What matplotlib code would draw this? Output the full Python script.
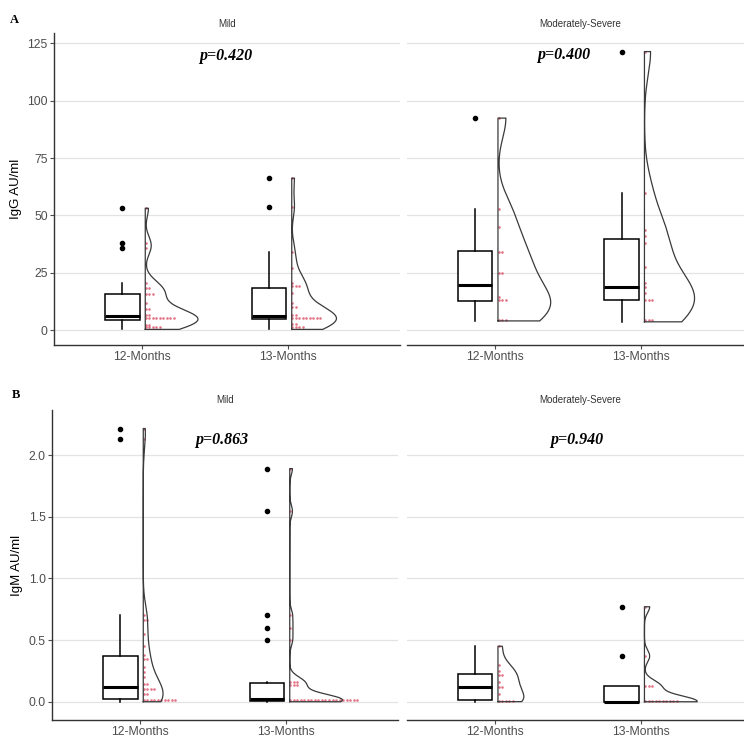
import numpy as np
import matplotlib.pyplot as plt

months = ['12-Months', '13-Months']
severity = ['Mild', 'Moderately-Severe']

# IgG AU/ml, estimated individual values
igg_mild_12 = [0.3, 1.2, 1.5, 1.8, 2.0, 2.2, 2.5, 4.5, 4.7, 5.0, 5.3, 5.5, 5.7, 5.8, 6.0,
               6.2, 6.5, 7.0, 8.5, 10.0, 12.0, 15.0, 16.0, 16.5, 17.5, 18.9, 20.4, 35.6, 38.1, 53.1]
igg_mild_13 = [0.3, 1.2, 1.6, 2.0, 2.3, 2.6, 4.5, 4.7, 5.0, 5.3, 5.5, 5.8, 6.0, 6.0, 6.2,
               6.4, 6.8, 9.5, 10.5, 12.0, 16.0, 18.5, 19.5, 20.0, 20.5, 27.0, 34.2, 53.8, 66.2]
igg_sev_12 = [4.0, 4.4, 4.8, 12.5, 13.2, 13.8, 14.5, 24.5, 25.5, 33.8, 34.6, 44.8, 52.7, 92.4]
igg_sev_13 = [3.6, 4.5, 5.0, 12.4, 13.5, 14.0, 16.0, 18.6, 20.6, 27.6, 38.0, 41.0, 43.6, 59.6, 121.4]

# IgM AU/ml, estimated individual values
igm_mild_12 = [0.0, 0.0, 0.01, 0.01, 0.01, 0.02, 0.02, 0.02, 0.03, 0.03, 0.05, 0.07, 0.09, 0.10,
               0.11, 0.12, 0.13, 0.15, 0.20, 0.24, 0.28, 0.34, 0.36, 0.38, 0.45, 0.55, 0.65, 0.68,
               0.70, 2.13, 2.215]
igm_mild_13 = [0.0, 0.0, 0.0, 0.0, 0.0, 0.005, 0.005, 0.01, 0.01, 0.01, 0.01, 0.015, 0.015, 0.02,
               0.02, 0.02, 0.025, 0.03, 0.03, 0.03, 0.12, 0.14, 0.15, 0.16, 0.16, 0.16,
               0.50, 0.60, 0.70, 1.545, 1.89]
igm_sev_12 = [0.0, 0.0, 0.0, 0.01, 0.02, 0.06, 0.11, 0.13, 0.16, 0.21, 0.23, 0.25, 0.30, 0.45]
igm_sev_13 = [0.0, 0.0, 0.0, 0.0, 0.0, 0.0, 0.0, 0.0, 0.005, 0.01, 0.12, 0.13, 0.13, 0.37, 0.77]

p_igg = ['p=0.420', 'p=0.400']
p_igm = ['p=0.863', 'p=0.940']
igg_ticks = [0, 25, 50, 75, 100, 125]
igm_ticks = [0.0, 0.5, 1.0, 1.5, 2.0]

plt.rcParams['font.family'] = ['Liberation Sans', 'DejaVu Sans']


def bw_nrd0(v):
    v = np.asarray(v, float)
    sd = v.std(ddof=1)
    iqr = np.subtract(*np.percentile(v, [75, 25]))
    lo = min(sd, iqr / 1.34) if iqr > 0 else sd
    return 0.9 * lo * len(v) ** -0.2


def density(v, grid):
    v = np.asarray(v, float)
    bw = bw_nrd0(v)
    z = (grid[:, None] - v[None, :]) / bw
    return np.exp(-0.5 * z ** 2).sum(axis=1) / (len(v) * bw * np.sqrt(2 * np.pi))


def dot_bins(v, binwidth):
    v = np.sort(np.asarray(v, float))
    out = []
    i = 0
    while i < len(v):
        j = i
        while j < len(v) and v[j] < v[i] + binwidth:
            j += 1
        out.append(((v[i] + v[j - 1]) / 2, j - i))
        i = j
    return out


def panel(ax, groups, ylim, ticks, binwidth, ptext, px, py, fmt, title, title_y, first):
    pos = np.arange(1, len(groups) + 1)
    base = pos + 0.023
    grids = [np.linspace(min(g), max(g), 512) for g in groups]
    dens = [density(g, gr) for g, gr in zip(groups, grids)]
    dmax = max(d.max() for d in dens)

    for b, g, gr, d in zip(base, groups, grids, dens):
        for yc, n in dot_bins(g, binwidth):
            ax.scatter(b + 0.004 + 0.024 * np.arange(n), [yc] * n, s=3.5, color='#d9455f',
                       alpha=0.75, linewidths=0, zorder=3)
        w = b + 0.36 * d / dmax
        xs = np.concatenate([[b], w, [b, b]])
        ys = np.concatenate([[gr[0]], gr, [gr[-1], gr[0]]])
        ax.plot(xs, ys, color='#3a3a3a', lw=0.9, zorder=4)

    ax.boxplot(groups, positions=pos - 0.133, widths=0.235, showcaps=False, patch_artist=True,
               manage_ticks=False,
               boxprops=dict(facecolor='white', edgecolor='black', linewidth=1.1),
               medianprops=dict(color='black', linewidth=2.2),
               whiskerprops=dict(color='black', linewidth=1.1),
               flierprops=dict(marker='o', markerfacecolor='black', markeredgecolor='black',
                               markersize=3))

    ax.set_xlim(0.4, 2.762)
    ax.set_ylim(*ylim)
    ax.set_xticks(pos)
    ax.set_xticklabels(months)
    ax.set_yticks(ticks)
    ax.set_yticklabels([fmt.format(t) for t in ticks])
    ax.grid(axis='y', color='#e3e3e3', lw=0.9)
    ax.set_axisbelow(True)
    ax.tick_params(colors='#4d4d4d', labelsize=8.8, length=3, width=0.8, pad=1.5)
    for s in ['top', 'right']:
        ax.spines[s].set_visible(False)
    ax.spines['bottom'].set_color('#333333')
    ax.spines['left'].set_color('#333333')
    ax.spines['bottom'].set_linewidth(1.0)
    ax.spines['left'].set_linewidth(1.0)
    if not first:
        ax.spines['left'].set_visible(False)
        ax.tick_params(axis='y', left=False, labelleft=False)
    ax.text(px, py, ptext, ha='center', va='center', fontsize=11.5,
            family='Liberation Serif', fontweight='bold', fontstyle='italic')
    ax.text(0.5, title_y, title, transform=ax.transAxes, ha='center', va='center',
            fontsize=7, color='#333333')


fig = plt.figure(figsize=(7.44, 7.38), dpi=100)
W, H = 744, 738

top = [fig.add_axes([54 / W, 1 - 345 / H, 346 / W, 312 / H]),
       fig.add_axes([406.7 / W, 1 - 345 / H, 346 / W, 312 / H])]
bot = [fig.add_axes([52 / W, 1 - 720 / H, 346 / W, 310 / H]),
       fig.add_axes([406.7 / W, 1 - 720 / H, 346 / W, 310 / H])]

panel(top[0], [igg_mild_12, igg_mild_13], (-6.5, 129.5), igg_ticks, 1.8, p_igg[0], 1.57, 119.5,
      '{:g}', severity[0], 1.029, True)
panel(top[1], [igg_sev_12, igg_sev_13], (-6.5, 129.5), igg_ticks, 1.8, p_igg[1], 1.47, 120,
      '{:g}', severity[1], 1.029, False)
panel(bot[0], [igm_mild_12, igm_mild_13], (-0.148, 2.365), igm_ticks, 0.035, p_igm[0], 1.56, 2.12,
      '{:.1f}', severity[0], 1.032, True)
panel(bot[1], [igm_sev_12, igm_sev_13], (-0.148, 2.365), igm_ticks, 0.035, p_igm[1], 1.56, 2.12,
      '{:.1f}', severity[1], 1.032, False)

top[0].set_ylabel('IgG AU/ml', fontsize=9.5)
top[0].yaxis.set_label_coords(-0.0925, 0.5)
bot[0].set_ylabel('IgM AU/ml', fontsize=9.5)
bot[0].yaxis.set_label_coords(-0.084, 0.5)

fig.text(14 / W, 1 - 20 / H, 'A', family='Liberation Serif', fontweight='bold', fontsize=9,
         ha='center', va='center')
fig.text(16 / W, 1 - 395 / H, 'B', family='Liberation Serif', fontweight='bold', fontsize=9,
         ha='center', va='center')

fig.savefig('out.png', dpi=100)
